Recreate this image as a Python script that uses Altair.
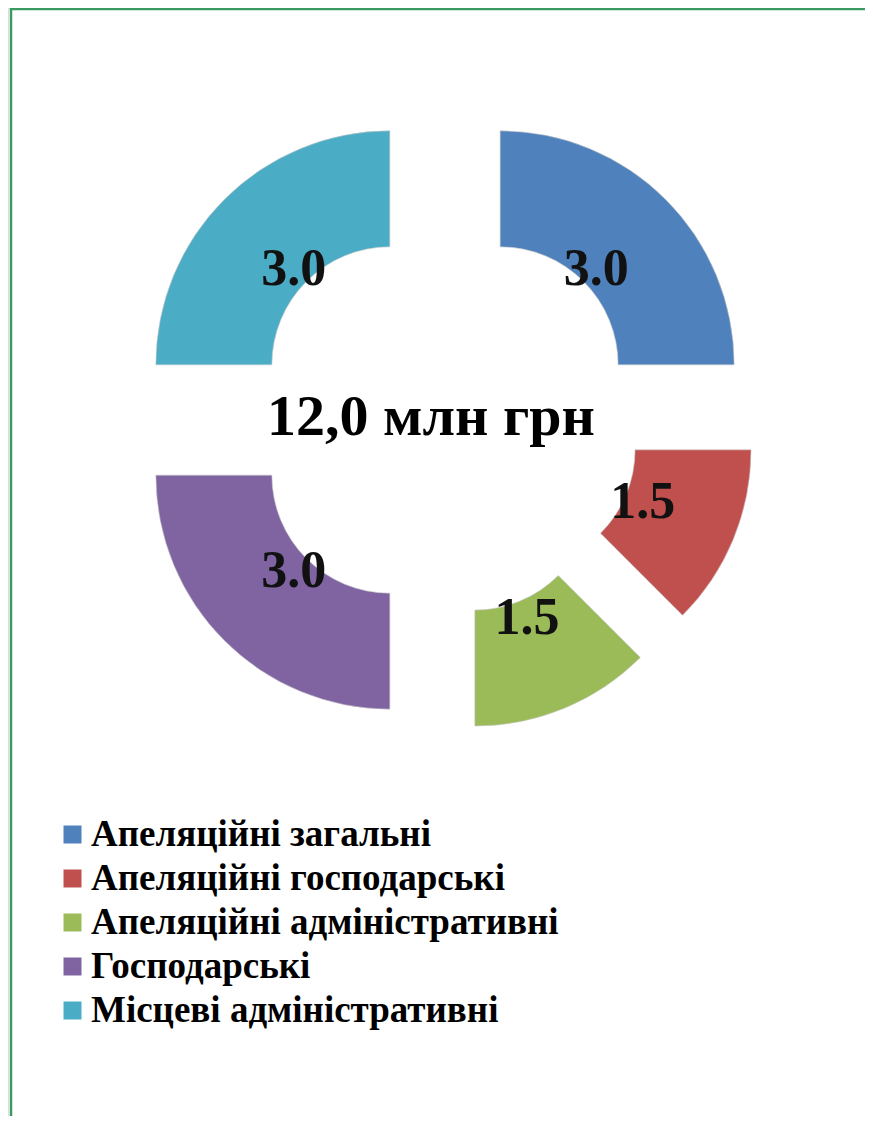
import math
import altair as alt
import pandas as pd

categories = [
    "Апеляційні загальні",
    "Апеляційні господарські",
    "Апеляційні адміністративні",
    "Господарські",
    "Місцеві адміністративні",
]
values = [3.0, 1.5, 1.5, 3.0, 3.0]
colors = ["#4F81BD", "#C0504D", "#9BBB59", "#8064A2", "#4BACC6"]
unit_label = "млн грн"

# layout constants (pixels)
W, H = 857, 1108
CX, CY = 437, 412
EXPLODE = 78
LABEL_R = 136
R_OUT, R_IN = 234, 118
FONT = "Liberation Serif"

df = pd.DataFrame({"category": categories, "value": values, "order": list(range(len(values)))})
total = sum(values)
center_text = f"{total:.1f}".replace(".", ",") + " " + unit_label

xs = alt.Scale(domain=[-CX, W - CX], range=[0, W])
ys = alt.Scale(domain=[CY, CY - H], range=[0, H])

base = (
    alt.Chart(df)
    .transform_window(cum="sum(value)", sort=[alt.SortField("order")])
    .transform_joinaggregate(total="sum(value)")
    .transform_calculate(start="datum.cum - datum.value", end="datum.cum")
    .transform_calculate(mid="(datum.start + datum.end) / 2 / datum.total * 2 * PI")
    .transform_calculate(
        ex=f"{EXPLODE} * sin(datum.mid)",
        ey=f"{EXPLODE} * cos(datum.mid)",
        lx=f"{EXPLODE + LABEL_R} * sin(datum.mid)",
        ly=f"{EXPLODE + LABEL_R} * cos(datum.mid)",
    )
)

arcs = base.mark_arc(
    innerRadius=R_IN, outerRadius=R_OUT, stroke="#c8c8c8", strokeWidth=0.6
).encode(
    x=alt.X("ex:Q", scale=xs, axis=None),
    y=alt.Y("ey:Q", scale=ys, axis=None),
    theta=alt.Theta("start:Q", scale=alt.Scale(domain=[0, total], range=[0, 2 * math.pi])),
    theta2="end:Q",
    color=alt.Color(
        "category:N",
        scale=alt.Scale(domain=categories, range=colors),
        sort=categories,
        legend=alt.Legend(
            orient="none",
            legendX=46,
            legendY=808,
            direction="vertical",
            title=None,
            padding=0,
            symbolType="square",
            symbolSize=324,
            symbolStrokeWidth=0,
            symbolOpacity=1,
            labelFont=FONT,
            labelFontSize=37,
            labelFontWeight="bold",
            labelColor="#000000",
            labelLimit=800,
            labelOffset=0,
            rowPadding=6,
        ),
    ),
)

labels = base.mark_text(
    font=FONT, fontSize=52, fontWeight="bold", color="#111111", baseline="middle", align="center"
).encode(
    x=alt.X("lx:Q", scale=xs, axis=None),
    y=alt.Y("ly:Q", scale=ys, axis=None),
    text=alt.Text("value:Q", format=".1f"),
)

center = alt.Chart(pd.DataFrame({"t": [center_text], "x": [0], "y": [0]})).mark_text(
    font=FONT, fontSize=58, fontWeight="bold", color="#000000", baseline="middle", align="center", dx=-14, dy=-2
).encode(
    x=alt.X("x:Q", scale=xs, axis=None),
    y=alt.Y("y:Q", scale=ys, axis=None),
    text="t:N",
)

border_top = alt.Chart(pd.DataFrame({"a": [0]})).mark_rule(color="#3A9A60", strokeWidth=2.5).encode(
    x=alt.value(3), x2=alt.value(W), y=alt.value(1)
)
border_left = alt.Chart(pd.DataFrame({"a": [0]})).mark_rule(color="#3A9A60", strokeWidth=2.5).encode(
    x=alt.value(3), y=alt.value(0), y2=alt.value(H)
)

chart = (
    alt.layer(arcs, labels, center, border_top, border_left)
    .properties(width=W, height=H, padding=0, autosize=alt.AutoSizeParams(type="none"))
    .configure_view(stroke=None)
    .configure_legend(labelFont=FONT, labelFontSize=37, labelFontWeight="bold", labelColor="#000000")
    .configure(background="white")
)

chart.save("out.html", embed_options={"renderer": "svg", "actions": False})
